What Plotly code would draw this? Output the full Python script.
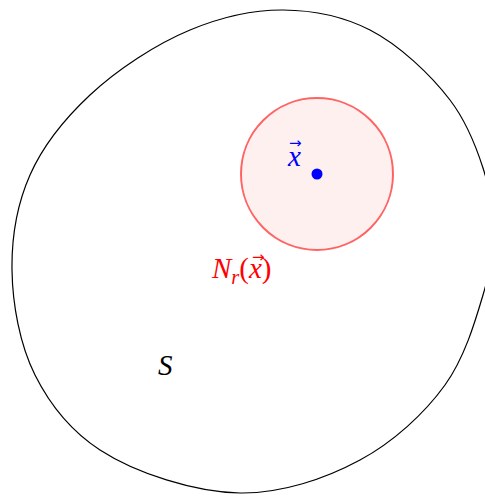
import plotly.graph_objects as go

# Outline of the set S (pixel-like coordinates, y grows downward)
blob_x = [494, 483, 450, 370, 283, 190, 90, 30, 12, 35, 100, 240, 360, 445, 483, 494]
blob_y = [232, 168, 100, 30, 10, 30, 95, 175, 270, 375, 450, 493, 460, 385, 295, 232]

# Neighbourhood N_r(x)
center_x = [317]
center_y = [174]
radius = [76]

# Labels
label_text = ["<i>x</i>", "<i>N</i><sub><i>r</i></sub>(<i>x</i>)", "<i>S</i>"]
label_x = [294, 241, 165]
label_y = [156, 270, 365]
label_color = ["blue", "red", "black"]

# vector arrows over the x's
arrow_x = [295, 258]
arrow_y = [143, 257]
arrow_color = ["blue", "red"]

fig = go.Figure()

cx, cy, r = center_x[0], center_y[0], radius[0]
fig.add_shape(type="circle", xref="x", yref="y",
              x0=cx - r, x1=cx + r, y0=cy - r, y1=cy + r,
              line=dict(color="rgba(255,0,0,0.6)", width=2),
              fillcolor="rgba(255,0,0,0.06)", layer="below")

fig.add_trace(go.Scatter(x=blob_x, y=blob_y, mode="lines",
                         line=dict(color="black", width=1.2, shape="spline", smoothing=1.0),
                         hoverinfo="skip", showlegend=False))

fig.add_trace(go.Scatter(x=center_x, y=center_y, mode="markers",
                         marker=dict(color="blue", size=11, line=dict(width=0)),
                         hoverinfo="skip", showlegend=False))

for t, x, y, c in zip(label_text, label_x, label_y, label_color):
    fig.add_annotation(x=x, y=y, xref="x", yref="y", text=t, showarrow=False,
                       xanchor="center", yanchor="middle",
                       font=dict(family="Liberation Serif", size=29, color=c))

for x, y, c in zip(arrow_x, arrow_y, arrow_color):
    fig.add_annotation(x=x, y=y, xref="x", yref="y", text="\u2192", showarrow=False,
                       xanchor="center", yanchor="middle",
                       font=dict(family="DejaVu Sans", size=15, color=c))

fig.update_xaxes(range=[0, 485], visible=False, showgrid=False, zeroline=False)
fig.update_yaxes(range=[496, 0], visible=False, showgrid=False, zeroline=False)
fig.update_layout(width=485, height=496, margin=dict(l=0, r=0, t=0, b=0),
                  plot_bgcolor="white", paper_bgcolor="white")

fig.write_html("out.html", config={"displayModeBar": False},
               post_script="document.body.style.margin='0px';document.body.style.overflow='hidden';")
